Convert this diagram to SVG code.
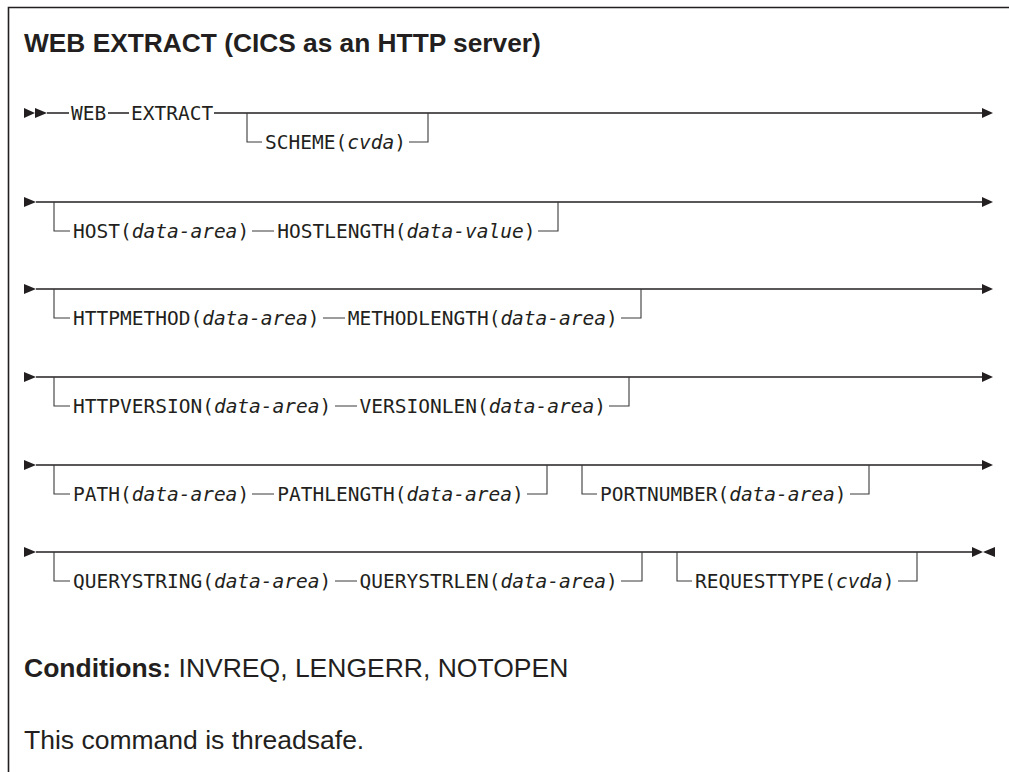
<svg xmlns="http://www.w3.org/2000/svg" width="1009" height="772" viewBox="0 0 1009 772">
<style>
.ln{stroke:#231f20;stroke-width:1.3;fill:none}
.br{stroke:#3a3a3a;stroke-width:1.1;fill:none}
.ah{fill:#231f20}
.kw{font-family:"DejaVu Sans Mono","Liberation Mono",monospace;font-size:19.5px;fill:#231f20}
.v{font-style:italic}
.ttl{font-family:"Liberation Sans",Arial,sans-serif;font-weight:bold;font-size:26.3px;fill:#231f20}
.body{font-family:"Liberation Sans",Arial,sans-serif;font-size:26.5px;fill:#231f20}
.b{font-weight:bold}
</style>
<rect width="1009" height="772" fill="#fff"/>
<path d="M8.5,772 V7.5 H1009" stroke="#231f20" stroke-width="1.6" fill="none"/>
<text class="ttl" x="24" y="52">WEB EXTRACT (CICS as an HTTP server)</text>

<g id="connectors">
  <!-- row 1 -->
  <polygon class="ah" points="24,108 35,113 24,118"/>
  <polygon class="ah" points="35,108 47,113 35,118"/>
  <path class="ln" d="M47,113 H69 M108,113 H129 M214,113 H982"/>
  <polygon class="ah" points="982,108 993,113 982,118"/>
  <path class="br" d="M247,113 V142 H262 M409,142 H428 V113"/>
  <!-- row 2 -->
  <polygon class="ah" points="24,197 36,202 24,207"/>
  <path class="ln" d="M36,202 H982"/>
  <polygon class="ah" points="982,197 993,202 982,207"/>
  <path class="br" d="M54,202 V231 H70 M252,231 H274 M538,231 H558 V202"/>
  <!-- row 3 -->
  <polygon class="ah" points="24,284 36,289 24,294"/>
  <path class="ln" d="M36,289 H982"/>
  <polygon class="ah" points="982,284 993,289 982,294"/>
  <path class="br" d="M54,289 V318 H70 M323,318 H345 M621,318 H641 V289"/>
  <!-- row 4 -->
  <polygon class="ah" points="24,372 36,377 24,382"/>
  <path class="ln" d="M36,377 H982"/>
  <polygon class="ah" points="982,372 993,377 982,382"/>
  <path class="br" d="M54,377 V406 H70 M335,406 H357 M609,406 H629 V377"/>
  <!-- row 5 -->
  <polygon class="ah" points="24,460 36,465 24,470"/>
  <path class="ln" d="M36,465 H982"/>
  <polygon class="ah" points="982,460 993,465 982,470"/>
  <path class="br" d="M54,465 V494 H70 M252,494 H274 M527,494 H547 V465"/>
  <path class="br" d="M582,465 V494 H597 M850,494 H869 V465"/>
  <!-- row 6 -->
  <polygon class="ah" points="24,547 36,552 24,557"/>
  <path class="ln" d="M36,552 H972"/>
  <polygon class="ah" points="972,547 983,552 972,557"/>
  <polygon class="ah" points="995,547 983,552 995,557"/>
  <path class="br" d="M54,552 V581 H70 M335,581 H357 M621,581 H642 V552"/>
  <path class="br" d="M677,552 V581 H692 M898,581 H917 V552"/>
</g>

<g id="n-web"><text class="kw" x="71" y="120">WEB</text></g>
<g id="n-extract"><text class="kw" x="131" y="120">EXTRACT</text></g>
<g id="n-scheme"><text class="kw" x="265" y="149">SCHEME(<tspan class="v">cvda</tspan>)</text></g>

<g id="n-host"><text class="kw" x="73" y="238">HOST(<tspan class="v">data-area</tspan>)</text></g>
<g id="n-hostlength"><text class="kw" x="277.25" y="238">HOSTLENGTH(<tspan class="v">data-value</tspan>)</text></g>

<g id="n-httpmethod"><text class="kw" x="73" y="325">HTTPMETHOD(<tspan class="v">data-area</tspan>)</text></g>
<g id="n-methodlength"><text class="kw" x="347.75" y="325">METHODLENGTH(<tspan class="v">data-area</tspan>)</text></g>

<g id="n-httpversion"><text class="kw" x="73" y="413">HTTPVERSION(<tspan class="v">data-area</tspan>)</text></g>
<g id="n-versionlen"><text class="kw" x="359.5" y="413">VERSIONLEN(<tspan class="v">data-area</tspan>)</text></g>

<g id="n-path"><text class="kw" x="73" y="501">PATH(<tspan class="v">data-area</tspan>)</text></g>
<g id="n-pathlength"><text class="kw" x="277.25" y="501">PATHLENGTH(<tspan class="v">data-area</tspan>)</text></g>
<g id="n-portnumber"><text class="kw" x="600" y="501">PORTNUMBER(<tspan class="v">data-area</tspan>)</text></g>

<g id="n-querystring"><text class="kw" x="73" y="588">QUERYSTRING(<tspan class="v">data-area</tspan>)</text></g>
<g id="n-querystrlen"><text class="kw" x="359.5" y="588">QUERYSTRLEN(<tspan class="v">data-area</tspan>)</text></g>
<g id="n-requesttype"><text class="kw" x="695" y="588">REQUESTTYPE(<tspan class="v">cvda</tspan>)</text></g>

<text class="body" x="24" y="677"><tspan class="b">Conditions:</tspan> INVREQ, LENGERR, NOTOPEN</text>
<text class="body" x="24" y="749">This command is threadsafe.</text>
</svg>
